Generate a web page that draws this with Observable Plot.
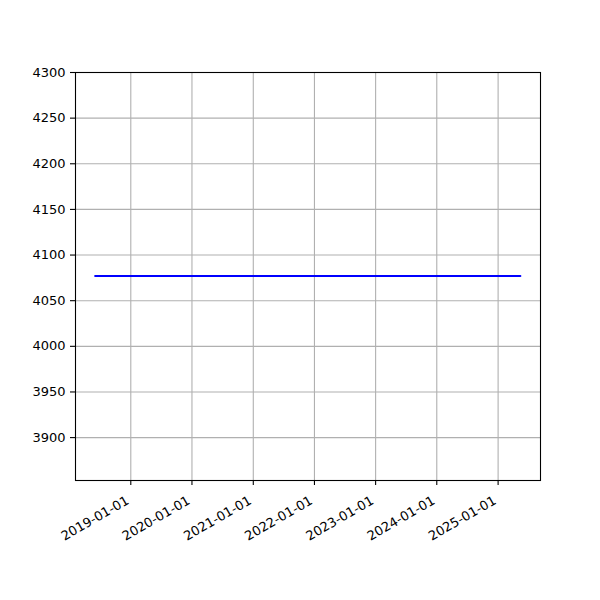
<!DOCTYPE html>
<html><head><meta charset="utf-8">
<script src="https://cdn.jsdelivr.net/npm/d3@7"></script>
<script src="https://cdn.jsdelivr.net/npm/@observablehq/plot@0.6"></script>
<style>body{margin:0;background:#fff} #chart{width:600px;height:600px}</style>
</head><body><div id="chart"></div>
<script>
const dates = ["2018-06-02", "2025-05-14"];
const values = [4077, 4077];
const yTicks = [3900, 3950, 4000, 4050, 4100, 4150, 4200, 4250, 4300];
const xTickLabels = ["2019-01-01", "2020-01-01", "2021-01-01", "2022-01-01", "2023-01-01", "2024-01-01", "2025-01-01"];
const xDomain = ["2018-02-05", "2025-09-11"];
const yDomain = [3853, 4300];

const data = dates.map((d, i) => ({date: new Date(d), value: values[i]}));
const xt = xTickLabels.map(s => new Date(s));
const grid = {stroke: "#b0b0b0", strokeOpacity: 1, strokeWidth: 1.1};

const chart = Plot.plot({
  width: 600, height: 600,
  marginLeft: 75, marginRight: 60, marginTop: 72, marginBottom: 120,
  style: {fontFamily: "DejaVu Sans", fontSize: "13px", background: "white", color: "black"},
  x: {type: "utc", domain: xDomain.map(d => new Date(d))},
  y: {domain: yDomain},
  marks: [
    Plot.gridX(xt, grid),
    Plot.gridY(yTicks, grid),
    Plot.line(data, {x: "date", y: "value", stroke: "#0000ff", strokeWidth: 2}),
    Plot.frame({stroke: "black", strokeWidth: 1.1}),
    Plot.axisY(yTicks, {tickSize: 5, tickPadding: 5, label: null, fontSize: 13, strokeWidth: 1.1, tickFormat: d => String(d)}),
    Plot.axisX(xt, {tickSize: 5, tickFormat: () => "", label: null, strokeWidth: 1.1}),
    Plot.text(xt, {x: d => d, text: (d, i) => xTickLabels[i], frameAnchor: "bottom", dy: 19, dx: -3,
      rotate: -30, textAnchor: "end", lineAnchor: "middle", fontSize: 13, fill: "black"})
  ]
});
document.getElementById("chart").appendChild(chart);
</script>
</body></html>
